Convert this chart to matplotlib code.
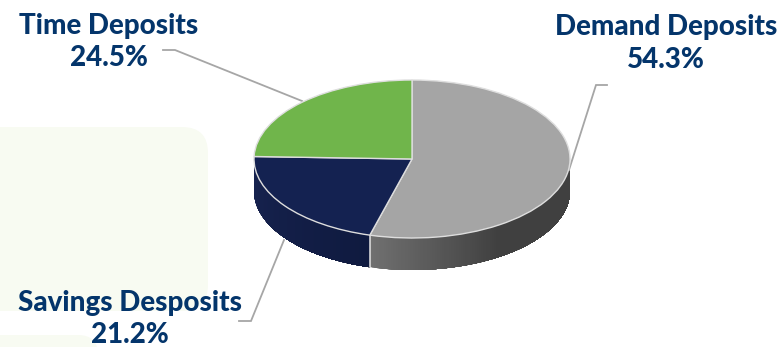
import matplotlib
matplotlib.use('Agg')
import matplotlib.pyplot as plt
import matplotlib.patches as patches
from matplotlib.colors import to_rgb
import numpy as np

W, H = 783, 347
CX, CY = 412, 159      # pie centre, pixels from top left
RX, RY = 158, 79       # ellipse radii
DEPTH = 32

labels = ['Demand Deposits', 'Savings Desposits', 'Time Deposits']
shares = [54.3, 21.2, 24.5]
colors = ['#a5a5a5', '#142251', '#70b54b']

TEXT = '#04356b'
LEADER = '#a6a6a6'
PANEL = '#f8fbf2'


def ux(px):
    return (px - CX) / RX


def uy(py):
    return (CY - py) / RY


def wall(a0, a1, c_first, c_last, fade):
    # side wall from angle a0 to a1 (clockwise from 12 o'clock), painted back to front
    # so each step overlaps the last and no seams show; fade = share of the sweep shaded
    c0, c1 = np.array(to_rgb(c_first)), np.array(to_rgb(c_last))
    steps = np.linspace(a0, a1, 120)
    for i, t in enumerate(steps[:-1]):
        rest = steps[i:]
        f = min(1, i / (len(steps) * fade))
        xs, ys = np.sin(rest), np.cos(rest)
        ax.fill(np.r_[xs, xs[::-1]], np.r_[ys, ys[::-1] - depth_u],
                color=c0 + (c1 - c0) * f, lw=0, zorder=1)


fig = plt.figure(figsize=(W / 100, H / 100), dpi=100)
ax = fig.add_axes([0, 0, 1, 1])

# pale panels behind the left side
for x0, y0, w, h, r in [(-40, 127, 248, 184, 26), (-40, 335, 138, 60, 20)]:
    panel = patches.FancyBboxPatch((ux(x0 + r), uy(y0 + h - r)), (w - 2 * r) / RX, (h - 2 * r) / RY,
                                   boxstyle=f'round,pad={r / RX},rounding_size={r / RX}',
                                   mutation_aspect=RX / RY, fc=PANEL, ec='none', zorder=0)
    ax.add_patch(panel)

depth_u = DEPTH / RY
ends = np.cumsum(shares) / 100 * 2 * np.pi

# only the front half of the rim shows: demand on the right, savings on the left
wall(ends[0], np.pi / 2, '#707070', '#404040', 0.45)
wall(3 * np.pi / 2, ends[0], '#172350', '#0f1a3f', 1.0)

seam = ends[0]
ax.plot([np.sin(seam)] * 2, [np.cos(seam), np.cos(seam) - depth_u], color='#e4e4e4', lw=1.1, zorder=2)

ax.pie(shares, colors=colors, startangle=90, counterclock=False, radius=1, center=(0, 0),
       wedgeprops=dict(edgecolor='#dedede', linewidth=1.0, zorder=3))

ax.set_aspect('auto')
ax.set_xlim(ux(0), ux(W))
ax.set_ylim(uy(H), uy(0))
ax.axis('off')

# leader lines
leaders = [
    [(607, 85), (596, 85), (569, 170)],
    [(239, 321), (251, 321), (284, 240)],
    [(163, 50), (175, 50), (302, 101)],
]
for pts in leaders:
    ax.plot([ux(p[0]) for p in pts], [uy(p[1]) for p in pts], color=LEADER, lw=1.3, zorder=2,
            solid_joinstyle='miter')

# labels
label_pos = [(666, 27, 60), (130, 303, 335), (109, 26, 58)]
for name, share, (x, y1, y2) in zip(labels, shares, label_pos):
    ax.text(ux(x), uy(y1), name, family='Lato', fontweight='black', fontsize=20, color=TEXT,
            ha='center', va='center', zorder=5)
    ax.text(ux(x), uy(y2), f'{share}%', family='Lato', fontweight='black', fontsize=20, color=TEXT,
            ha='center', va='center', zorder=5)

fig.savefig('out.png', dpi=100, facecolor='white')
